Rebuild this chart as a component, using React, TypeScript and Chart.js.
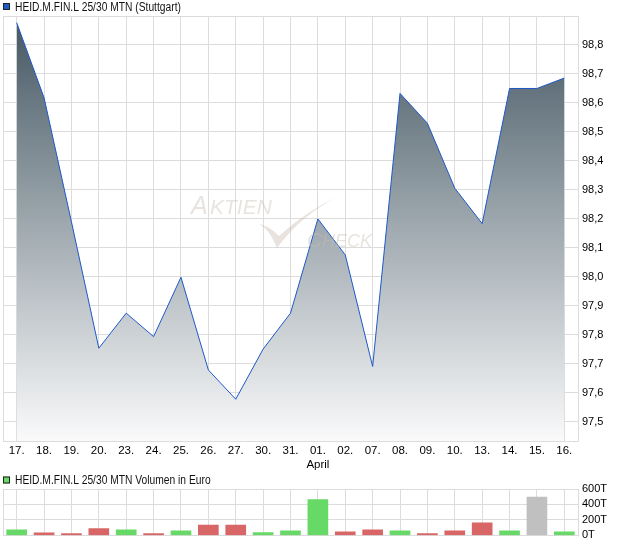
import React, { useEffect, useRef } from "react";
import { Chart, registerables } from "chart.js";

Chart.register(...registerables);

// ---- data ----
const categories = ["17.", "18.", "19.", "20.", "23.", "24.", "25.", "26.", "27.", "30.", "31.", "01.", "02.", "07.", "08.", "09.", "10.", "13.", "14.", "15.", "16."];
const monthLabels = ["", "", "", "", "", "", "", "", "", "", "", "April", "", "", "", "", "", "", "", "", ""];
const prices = [98.877, 98.618, 98.19, 97.754, 97.875, 97.794, 97.999, 97.679, 97.578, 97.751, 97.875, 98.2, 98.076, 97.691, 98.633, 98.53, 98.306, 98.184, 98.65, 98.65, 98.686];
const volumesT = [73, 34, 22, 89, 73, 22, 59, 135, 135, 36, 59, 464, 46, 72, 59, 22, 59, 162, 60, 494, 47];
const priceTicks = [97.5, 97.6, 97.7, 97.8, 97.9, 98.0, 98.1, 98.2, 98.3, 98.4, 98.5, 98.6, 98.7, 98.8];
const volumeTicks = [0, 200, 400, 600];
const priceTitle = "HEID.M.FIN.L 25/30 MTN (Stuttgart)";
const volumeTitle = "HEID.M.FIN.L 25/30 MTN Volumen in Euro";

const SANS = '"Liberation Sans", Arial, sans-serif';
const GRID = "#dcdcdc";

const W = 620;
const H1 = 470;
const H2 = 76;

function borderPlugin(id: string) {
  return {
    id,
    beforeDatasetsDraw(chart: any) {
      const { ctx, chartArea: a } = chart;
      ctx.save();
      ctx.strokeStyle = GRID;
      ctx.lineWidth = 1;
      ctx.strokeRect(Math.round(a.left) + 0.5, Math.round(a.top) + 0.5, Math.round(a.right - a.left), Math.round(a.bottom - a.top));
      ctx.restore();
    },
  };
}

function legendPlugin(id: string, text: string, color: string, baseline: number, boxTop: number) {
  return {
    id,
    afterDraw(chart: any) {
      const ctx = chart.ctx;
      ctx.save();
      ctx.fillStyle = color;
      ctx.fillRect(3, boxTop, 7, 7);
      ctx.strokeStyle = "#222";
      ctx.lineWidth = 1;
      ctx.strokeRect(3.5, boxTop + 0.5, 6, 6);
      ctx.fillStyle = "#111";
      ctx.font = "12px " + SANS;
      ctx.textBaseline = "alphabetic";
      ctx.textAlign = "left";
      ctx.translate(15, baseline);
      ctx.scale(0.855, 1);
      ctx.fillText(text, 0, 0);
      ctx.restore();
    },
  };
}

const watermarkPlugin = {
  id: "watermark",
  afterDatasetsDraw(chart: any) {
    const c = chart.ctx;
    c.save();
    c.fillStyle = "rgba(200,188,176,0.42)";
    c.textBaseline = "alphabetic";
    c.font = "italic 25px " + SANS;
    c.fillText("A", 191, 214);
    c.font = "italic 21px " + SANS;
    c.fillText("KTIEN", 210, 214);
    c.font = "italic 21px " + SANS;
    c.fillText("C", 307, 247);
    c.font = "italic 18px " + SANS;
    c.fillText("HECK", 322, 247);
    c.beginPath();
    c.moveTo(256, 223);
    c.quadraticCurveTo(268, 226, 277, 248);
    c.quadraticCurveTo(302, 214, 341, 195);
    c.quadraticCurveTo(306, 211, 279, 236);
    c.quadraticCurveTo(270, 226, 256, 223);
    c.closePath();
    c.fill();
    c.restore();
  },
};

export default function App() {
  const lineRef = useRef<HTMLCanvasElement | null>(null);
  const barRef = useRef<HTMLCanvasElement | null>(null);

  useEffect(() => {
    const labels = categories.map((c, i) => (monthLabels[i] ? [c, monthLabels[i]] : c));
    const lineChart = new Chart(lineRef.current as HTMLCanvasElement, {
      type: "line",
      data: {
        labels,
        datasets: [
          {
            data: prices,
            borderColor: "#1d58c8",
            borderWidth: 1,
            pointRadius: 0,
            tension: 0,
            fill: "start",
            backgroundColor: (ctx: any) => {
              const { chart } = ctx;
              const a = chart.chartArea;
              if (!a) return "rgba(120,130,140,0.5)";
              const g = chart.ctx.createLinearGradient(0, a.top, 0, a.bottom);
              g.addColorStop(0, "rgb(68,86,98)");
              g.addColorStop(0.5, "rgb(160,170,176)");
              g.addColorStop(1, "rgb(250,250,251)");
              return g;
            },
          },
        ],
      },
      options: {
        animation: false,
        responsive: false,
        maintainAspectRatio: false,
        events: [],
        layout: { padding: { top: 16, left: 3, right: 0, bottom: 0 } },
        plugins: { legend: { display: false }, tooltip: { enabled: false } },
        scales: {
          x: {
            type: "category",
            offset: true,
            grid: { color: GRID, offset: false, drawTicks: false },
            border: { display: false },
            ticks: {
              autoSkip: false,
              maxRotation: 0,
              minRotation: 0,
              padding: 3,
              color: "#000",
              font: { family: SANS, size: 11.5 },
            },
            afterFit: (scale: any) => {
              scale.height = H1 - 441;
            },
          },
          y: {
            position: "right",
            min: 97.434,
            max: 98.9,
            grid: { color: GRID, drawTicks: false },
            border: { display: false },
            ticks: {
              autoSkip: false,
              padding: 4,
              color: "#000",
              font: { family: SANS, size: 11 },
              callback: (v: any) => Number(v).toFixed(1).replace(".", ","),
            },
            afterBuildTicks: (scale: any) => {
              scale.ticks = priceTicks.map((v) => ({ value: v }));
            },
            afterFit: (scale: any) => {
              scale.width = 42;
            },
          },
        },
      },
      plugins: [borderPlugin("border1"), watermarkPlugin, legendPlugin("legend1", priceTitle, "#1f5cc4", 11, 3)],
    } as any);

    const barColors = volumesT.map((_, i) => {
      if (i === 0) return "rgb(102,217,102)";
      if (prices[i] > prices[i - 1]) return "rgb(102,217,102)";
      if (prices[i] < prices[i - 1]) return "rgb(217,102,102)";
      return "rgb(192,192,192)";
    });

    const barChart = new Chart(barRef.current as HTMLCanvasElement, {
      type: "bar",
      data: {
        labels: categories,
        datasets: [
          {
            data: volumesT,
            backgroundColor: barColors,
            borderWidth: 0,
            barThickness: 20,
          },
        ],
      },
      options: {
        animation: false,
        responsive: false,
        maintainAspectRatio: false,
        events: [],
        layout: { padding: { top: 19, left: 3, right: 0, bottom: 9 } },
        plugins: { legend: { display: false }, tooltip: { enabled: false } },
        scales: {
          x: {
            type: "category",
            offset: true,
            display: true,
            grid: { color: GRID, offset: false, drawTicks: false },
            border: { display: false },
            ticks: { display: false },
            afterFit: (scale: any) => {
              scale.height = 0;
            },
          },
          y: {
            position: "right",
            min: 0,
            max: 600,
            grid: { color: GRID, drawTicks: false },
            border: { display: false },
            ticks: {
              autoSkip: false,
              padding: 4,
              color: "#000",
              font: { family: SANS, size: 11 },
              callback: (v: any) => `${v}T`,
            },
            afterBuildTicks: (scale: any) => {
              scale.ticks = volumeTicks.map((v) => ({ value: v }));
            },
            afterFit: (scale: any) => {
              scale.width = 42;
            },
          },
        },
      },
      plugins: [borderPlugin("border2"), legendPlugin("legend2", volumeTitle, "rgb(102,217,102)", 14, 6.5)],
    } as any);

    return () => {
      lineChart.destroy();
      barChart.destroy();
    };
  }, []);

  return (
    <div style={{ position: "fixed", left: 0, top: 0, width: W, height: 546, background: "#fff" }}>
      <canvas ref={lineRef} width={W} height={H1} style={{ position: "absolute", left: 0, top: 0, width: W, height: H1 }} />
      <canvas ref={barRef} width={W} height={H2} style={{ position: "absolute", left: 0, top: H1, width: W, height: H2 }} />
    </div>
  );
}
